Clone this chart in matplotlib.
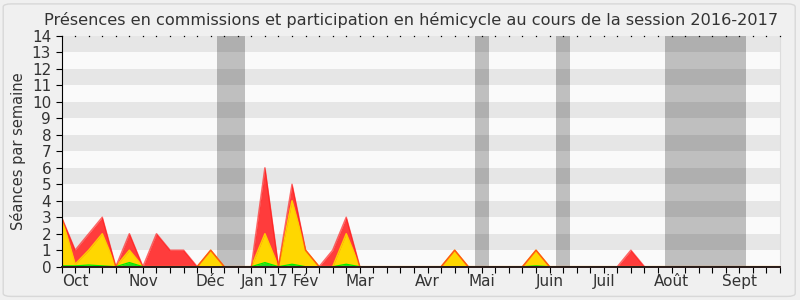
import matplotlib
matplotlib.use("Agg")
import matplotlib.pyplot as plt
from matplotlib.patches import FancyBboxPatch

# weekly values, session 2016-2017 (week 0 = start of October)
weeks  = list(range(54))
red    = [3, 1, 2, 3, 0, 2, 0, 2, 1, 1, 0, 1, 0, 0, 0, 6, 0, 5, 1, 0,
          1, 3, 0, 0, 0, 0, 0, 0, 0, 1, 0, 0, 0, 0, 0, 1, 0, 0, 0, 0,
          0, 0, 1, 0, 0, 0, 0, 0, 0, 0, 0, 0, 0, 0]
yellow = [3, 0.15, 1, 2, 0, 1, 0, 0, 0, 0, 0, 1, 0, 0, 0, 2, 0, 4, 1, 0,
          0, 2, 0, 0, 0, 0, 0, 0, 0, 1, 0, 0, 0, 0, 0, 1, 0, 0, 0, 0,
          0, 0, 0, 0, 0, 0, 0, 0, 0, 0, 0, 0, 0, 0]
green  = [0.05, 0.05, 0.1, 0.05, 0, 0.25, 0, 0, 0, 0, 0, 0, 0, 0, 0, 0.25, 0, 0.15, 0, 0,
          0, 0.15, 0, 0, 0, 0, 0, 0, 0, 0, 0, 0, 0, 0, 0, 0.05, 0, 0, 0, 0,
          0, 0, 0, 0, 0, 0, 0, 0, 0, 0, 0, 0, 0, 0]

# vacation weeks (first, last)
vacations = [(12, 13), (31, 31), (37, 37), (45, 50)]

month_weeks  = [1, 6, 11, 15, 18, 22, 27, 31, 36, 40, 45, 50]
month_labels = ["Oct", "Nov", "Déc", "Jan 17", "Fév", "Mar", "Avr", "Mai",
                "Juin", "Juil", "Août", "Sept"]

fig = plt.figure(figsize=(8, 3), dpi=100, facecolor="#f0f0f0")
fig.patches.append(FancyBboxPatch((0.004, 0.012), 0.99, 0.975,
                                  boxstyle="round,pad=0,rounding_size=0.01",
                                  transform=fig.transFigure, facecolor="#f0f0f0",
                                  edgecolor="#d8d8d8", linewidth=1, zorder=-10))
ax = fig.add_axes([0.077, 0.111, 0.898, 0.769])
ax.set_facecolor("#fafafa")

# horizontal stripes
for y0 in range(1, 14, 2):
    ax.axhspan(y0, y0 + 1, color="#e6e6e6", zorder=0, linewidth=0)

for a, b in vacations:
    ax.axvspan(a - 0.5, b + 0.5, color="black", alpha=0.235, zorder=0.5, linewidth=0)

ax.fill_between(weeks, red, 0, color="#ff3c3c", linewidth=0, zorder=1)
ax.fill_between(weeks, yellow, 0, color="#ffd700", linewidth=0, zorder=1.2)
ax.plot(weeks, yellow, color="#ffcc00", linewidth=1.1, zorder=1.3)
ax.plot(weeks, red, color="#ff1a1a", linewidth=1.1, alpha=0.65, zorder=1.35)
ax.fill_between(weeks, green, 0, color="#22dd22", linewidth=0, zorder=1.4)
ax.plot(weeks, green, color="#00ee00", linewidth=0.9, zorder=1.5)

# dotted top border
ax.plot(weeks, [14] * len(weeks), linestyle="none", marker="s", markersize=0.9,
        markeredgewidth=0, color="black", clip_on=False, zorder=3)

ax.set_xlim(0, 53)
ax.set_ylim(0, 14)
ax.set_yticks(range(15))
ax.tick_params(axis="y", labelsize=11, length=4, direction="out")
ax.set_xticks(weeks)
ax.set_xticklabels([month_labels[month_weeks.index(w)] if w in month_weeks else ""
                    for w in weeks])
ax.tick_params(axis="x", labelsize=11, length=4, direction="out", pad=1)
ax.tick_params(colors="black", labelcolor="#333333")
ax.set_ylabel("Séances par semaine", fontsize=10.5, color="#333333", labelpad=4)

ax.spines["top"].set_visible(False)
ax.spines["right"].set_color("#dddddd")
ax.spines["left"].set_color("black")
ax.spines["bottom"].set_color("#2a1a1a")
ax.spines["bottom"].set_linewidth(1.4)
ax.spines["bottom"].set_zorder(4)

fig.text(0.514, 0.935, "Présences en commissions et participation en hémicycle au cours de la session 2016-2017",
         ha="center", va="center", fontsize=11.6, color="#333333")

fig.savefig("out.png", dpi=100, facecolor=fig.get_facecolor())
